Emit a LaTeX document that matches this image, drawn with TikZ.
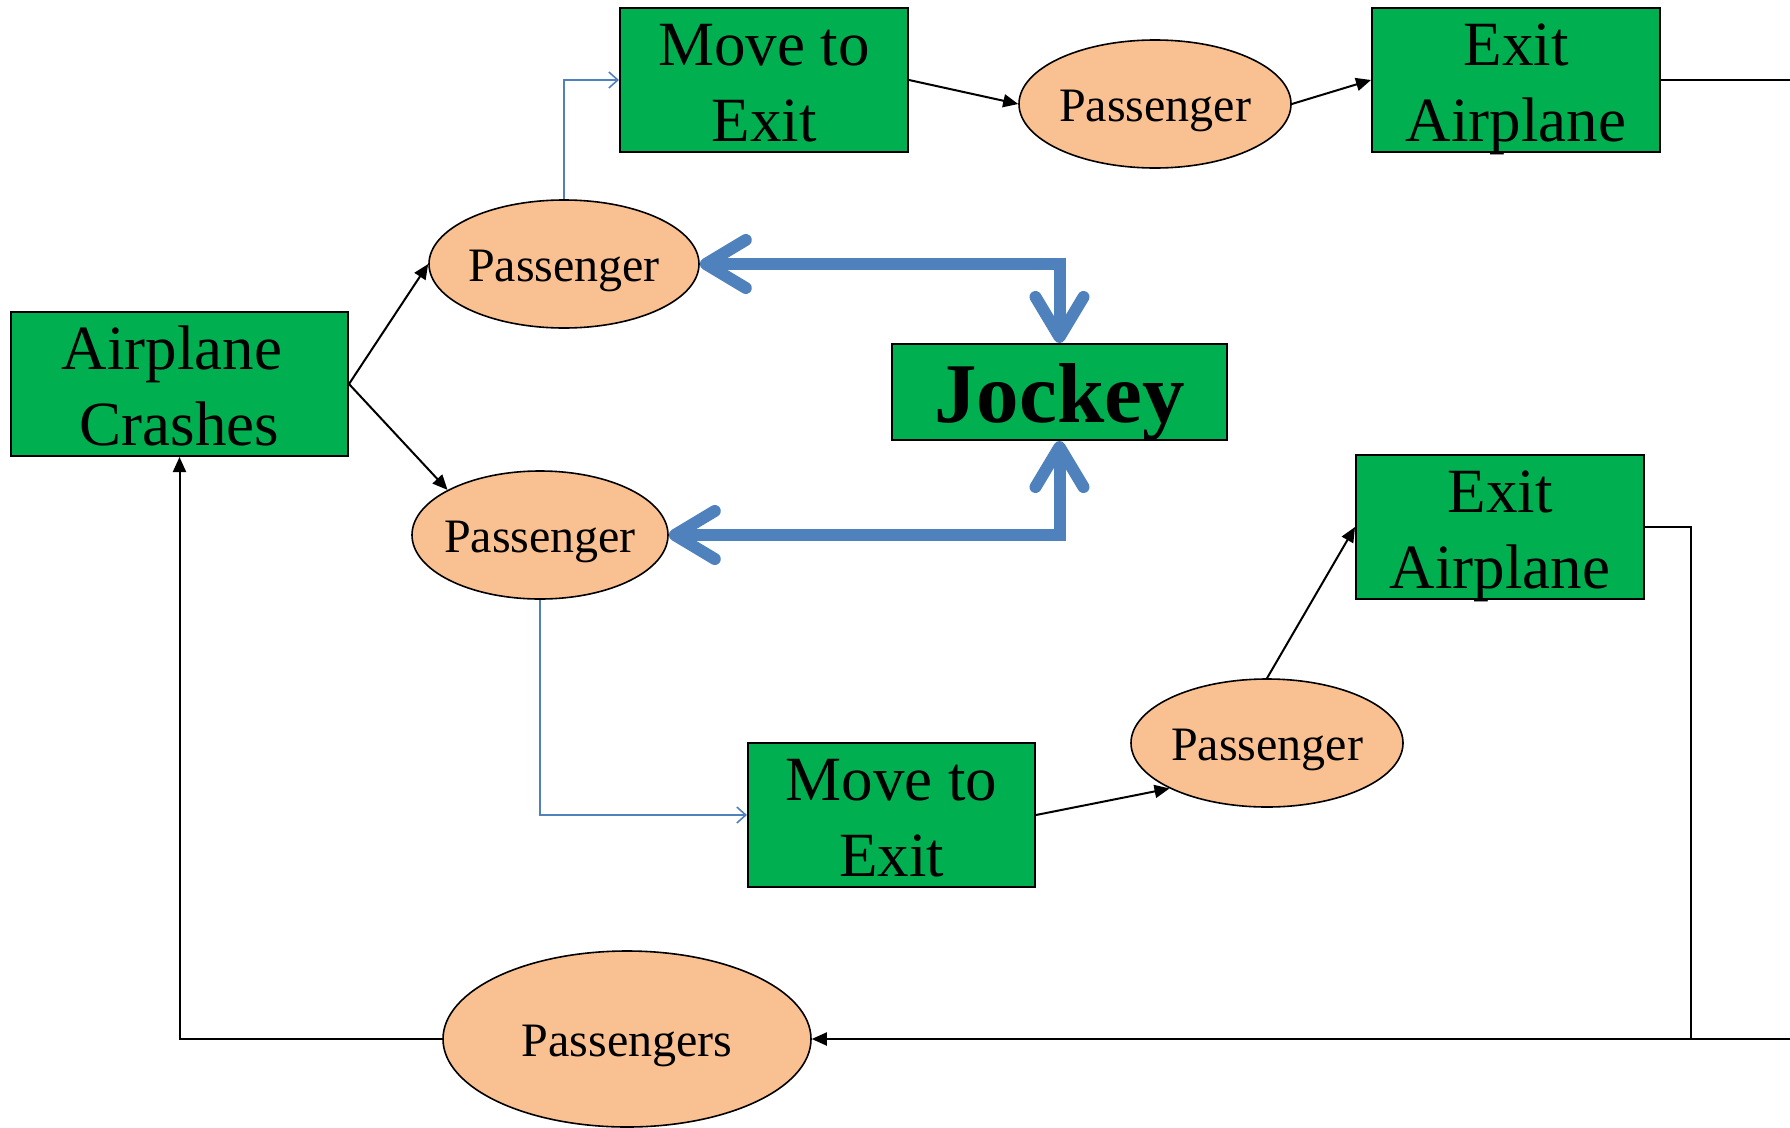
\documentclass[tikz,border=0pt]{standalone}
\usepackage{fontspec}
\setmainfont{Liberation Serif}
\usetikzlibrary{shapes.geometric,arrows.meta}
\definecolor{boxgreen}{RGB}{0,176,80}
\definecolor{paxfill}{RGB}{249,192,145}
\definecolor{linkblue}{RGB}{79,129,189}
% a text line of zero size, its baseline set #1 above the node centre
\newcommand{\lineat}[2]{\raisebox{#1}[0pt][0pt]{\makebox[0pt]{#2}}}
% two-line box label
\newcommand{\twolines}[2]{\lineat{14.5pt}{#1}\lineat{-61.5pt}{#2}}
\tikzset{
  stagebox/.style={draw=black, line width=2pt, fill=boxgreen, rectangle, inner sep=0pt,
    font=\fontsize{63}{75}\selectfont},
  pax/.style={draw=black, line width=1.6pt, fill=paxfill, ellipse, inner sep=0pt,
    font=\fontsize{48}{56}\selectfont},
  arr/.style={draw=black, line width=2pt, -{Triangle[length=15pt,width=13pt]}},
  plain/.style={draw=black, line width=2pt},
  thinlink/.style={draw=linkblue, line width=1.6pt, -{Straight Barb[length=9pt,width=16pt]}},
  jlink/.style={draw=linkblue, line width=12pt,
    {Straight Barb[length=40pt,width=48pt,round]}-{Straight Barb[length=40pt,width=48pt,round]}}
}
\begin{document}
\begin{tikzpicture}[x=1pt,y=-1pt]
\useasboundingbox (0,0) rectangle (1790,1127);

% stages
\node[stagebox, minimum width=337pt, minimum height=144pt] (crash) at (179.5,384) {\twolines{\hspace*{-15pt}Airplane}{Crashes}};
\node[stagebox, minimum width=288pt, minimum height=144pt] (move1) at (764,80) {\twolines{Move to}{Exit}};
\node[stagebox, minimum width=288pt, minimum height=144pt] (exit1) at (1516,80) {\twolines{Exit}{Airplane}};
\node[stagebox, minimum width=335pt, minimum height=96pt, font=\fontsize{85}{90}\selectfont\bfseries] (jockey) at (1059.5,392) {\lineat{-30pt}{Jockey}};
\node[stagebox, minimum width=288pt, minimum height=144pt] (exit2) at (1500,527) {\twolines{Exit}{Airplane}};
\node[stagebox, minimum width=287pt, minimum height=144pt] (move2) at (891.5,815) {\twolines{Move to}{Exit}};

% passengers
\node[pax, minimum width=272pt, minimum height=128pt] (pass1) at (1155,104) {\lineat{-17.5pt}{Passenger}};
\node[pax, minimum width=270pt, minimum height=128pt] (pU) at (564,264) {\lineat{-17.5pt}{Passenger}};
\node[pax, minimum width=256pt, minimum height=128pt] (pL) at (540,535) {\lineat{-17.5pt}{Passenger}};
\node[pax, minimum width=272pt, minimum height=128pt] (pR) at (1267,743) {\lineat{-17.5pt}{Passenger}};
\node[pax, minimum width=368pt, minimum height=176pt] (pall) at (627,1039) {\lineat{-17.5pt}{Passengers}};

% free ends at the page edge and corner of the return line
\coordinate (topout) at (1790,80);
\coordinate (botin) at (1790,1039);
\coordinate (corner) at (1691,1039);

% flow
\draw[arr] (crash.east) -- (pU.west);
\draw[arr] (crash.east) -- (pL.154);
\draw[thinlink] (pU.north) |- (move1.west);
\draw[arr] (move1.east) -- (pass1.west);
\draw[arr] (pass1.east) -- (exit1.west);
\draw[plain] (exit1.east) -- (topout);
\draw[jlink] (pU.east) -| (jockey.north);
\draw[jlink] (pL.east) -| (jockey.south);
\draw[thinlink] (pL.south) |- (move2.west);
\draw[arr] (move2.east) -- (pR.205);
\draw[arr] (pR.north) -- (exit2.west);
\draw[plain] (exit2.east) -| (corner);
\draw[arr] (botin) -- (pall.east);
\draw[arr] (pall.west) -| (crash.south);
\end{tikzpicture}
\end{document}
